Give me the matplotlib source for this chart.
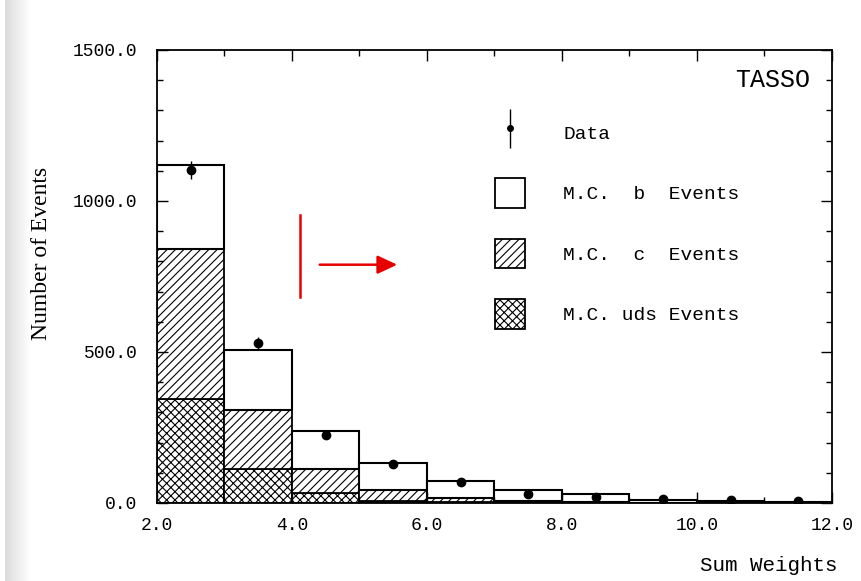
import numpy as np
import matplotlib
matplotlib.use('Agg')
import matplotlib.pyplot as plt
from matplotlib.patches import Patch
from matplotlib.legend_handler import HandlerErrorbar
from matplotlib.ticker import MultipleLocator, FormatStrFormatter

# bin edges in "Sum Weights"
bin_left = [2, 3, 4, 5, 6, 7, 8, 9, 10, 11]
# stacked MC: uds (bottom), c, b (top) - individual contributions
mc_uds = [345, 113, 32, 8, 4, 2, 1, 0, 0, 0]
mc_c = [497, 196, 80, 35, 12, 4, 3, 1, 0, 0]
mc_b = [277, 198, 126, 88, 56, 37, 26, 9, 8, 3]
# data points
data_x = [2.5, 3.5, 4.5, 5.5, 6.5, 7.5, 8.5, 9.5, 10.5, 11.5]
data_y = [1103, 530, 225, 128, 68, 29, 19, 13, 9, 6]
data_err = [30, 20, 10, 8, 6, 4, 3, 3, 2, 2]

mono = 'Liberation Mono'
serif = 'Liberation Serif'
plt.rcParams['hatch.linewidth'] = 0.8

fig = plt.figure(figsize=(8.62, 5.81), dpi=100)

# grey shade at left edge of the scanned page
grad = np.tile(np.linspace(0.86, 1.0, 40), (20, 1))
bg = fig.add_axes([0.006, 0.0, 0.03, 1.0])
bg.imshow(grad, cmap='gray', vmin=0, vmax=1, aspect='auto')
bg.axis('off')

ax = fig.add_axes([0.1821, 0.1343, 0.7831, 0.7797])

uds = np.array(mc_uds)
c = np.array(mc_c)
b = np.array(mc_b)

ax.bar(bin_left, uds, width=1, align='edge', color='white', edgecolor='black',
       hatch='xxxx', linewidth=1.3)
ax.bar(bin_left, c, width=1, bottom=uds, align='edge', color='white',
       edgecolor='black', hatch='////', linewidth=1.3)
ax.bar(bin_left, b, width=1, bottom=uds + c, align='edge', color='white',
       edgecolor='black', linewidth=1.5)

ax.errorbar(data_x, data_y, yerr=data_err, fmt='o', color='black', ms=6,
            elinewidth=1, capsize=0, zorder=5)
# legend-only handle for the data (smaller marker)
data_handle = ax.errorbar([np.nan], [np.nan], yerr=[1], fmt='o', color='black',
                          ms=4, elinewidth=1, capsize=0)

# red annotation
ax.plot([4.12, 4.12], [682, 954], color='#e60000', lw=1.8)
ax.annotate('', xy=(5.6, 789), xytext=(4.37, 789),
            arrowprops=dict(arrowstyle='-|>,head_length=0.6,head_width=0.28',
                            mutation_scale=20, color='#e60000', lw=1.8))

ax.set_xlim(2, 12)
ax.set_ylim(0, 1500)
ax.xaxis.set_major_locator(MultipleLocator(2))
ax.xaxis.set_minor_locator(MultipleLocator(1))
ax.yaxis.set_major_locator(MultipleLocator(500))
ax.yaxis.set_minor_locator(MultipleLocator(100))
ax.xaxis.set_major_formatter(FormatStrFormatter('%.1f'))
ax.yaxis.set_major_formatter(FormatStrFormatter('%.1f'))
ax.tick_params(which='both', direction='in', top=True, right=True)
ax.tick_params(which='major', length=8, width=1)
ax.tick_params(which='minor', length=4, width=1)
ax.tick_params(axis='y', pad=14)
ax.tick_params(axis='x', pad=10)
for lab in ax.get_xticklabels() + ax.get_yticklabels():
    lab.set_fontfamily(mono)
    lab.set_fontsize(13)
for s in ax.spines.values():
    s.set_linewidth(1.3)

ax.text(0.967, 0.934, 'TASSO', transform=ax.transAxes, ha='right', va='center',
        fontfamily=mono, fontsize=18)

handles = [
    data_handle,
    Patch(facecolor='white', edgecolor='black', lw=1.3),
    Patch(facecolor='white', edgecolor='black', hatch='////', lw=1.3),
    Patch(facecolor='white', edgecolor='black', hatch='xxxx', lw=1.3),
]
labels = ['Data', 'M.C.  b  Events', 'M.C.  c  Events', 'M.C. uds Events']
ax.legend(handles, labels, loc='upper left', bbox_to_anchor=(0.5007, 0.85),
          frameon=False, borderpad=0, borderaxespad=0,
          handlelength=1.55, handleheight=1.95, labelspacing=1.6,
          handletextpad=1.95, prop={'family': mono, 'size': 14},
          handler_map={data_handle: HandlerErrorbar(yerr_size=1.0)})

fig.text(0.048, 0.563, 'Number of Events', rotation=90, ha='center',
         va='center', fontfamily=serif, fontsize=17)
fig.text(0.972, 0.027, 'Sum Weights', ha='right', va='center',
         fontfamily=mono, fontsize=15)

fig.savefig('out.png', dpi=100)
